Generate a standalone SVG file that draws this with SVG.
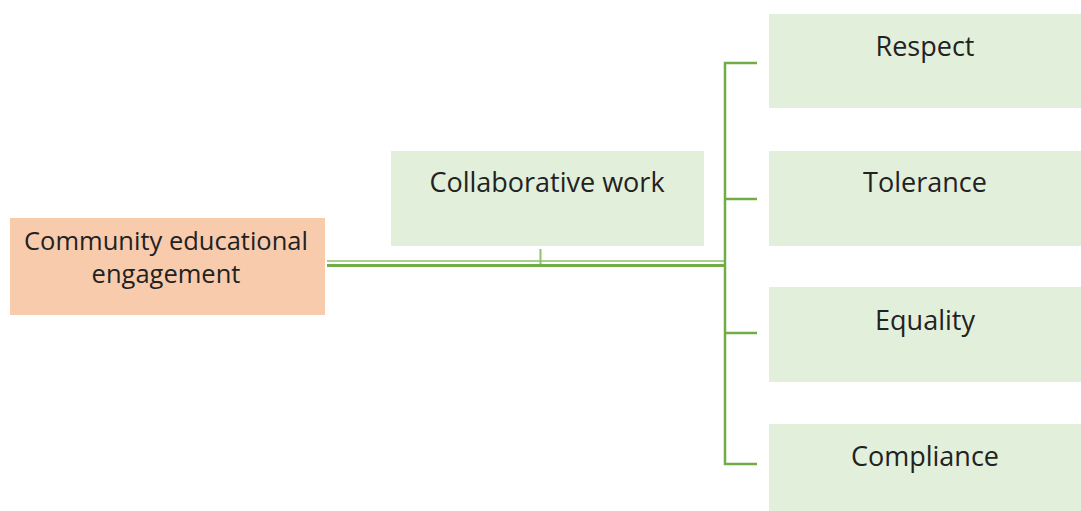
<svg xmlns="http://www.w3.org/2000/svg" width="1081" height="511" viewBox="0 0 1081 511">
<style>
.g{fill:#E2EFDA}
.o{fill:#F8CBAD}
text{font-family:"Open Sans","Noto Sans",sans-serif;font-size:27px;fill:#222;text-anchor:middle}
.s{font-size:25.5px}
.c{stroke:#70AD47;fill:none;stroke-width:2.5}
</style>
<rect width="1081" height="511" fill="#fff"/>
<g id="connectors">
<line x1="327" y1="261" x2="725" y2="261" stroke="#A9D08E" stroke-width="2"/>
<line x1="327" y1="265.5" x2="725" y2="265.5" stroke="#70AD47" stroke-width="3"/>
<line x1="540.5" y1="249" x2="540.5" y2="264" stroke="#8FC16C" stroke-width="2"/>
<path class="c" d="M757 63H725V464H757M725 199H757M725 333H757"/>
</g>
<g id="n-community"><rect class="o" x="10" y="218" width="315" height="97"/><text class="s" x="166" y="250">Community educational</text><text class="s" x="166" y="283">engagement</text></g>
<g id="n-collab"><rect class="g" x="391" y="151" width="313" height="95"/><text x="547" y="192">Collaborative work</text></g>
<g id="n-respect"><rect class="g" x="769" y="14" width="312" height="94"/><text x="925" y="56">Respect</text></g>
<g id="n-tolerance"><rect class="g" x="769" y="151" width="312" height="95"/><text x="925" y="192">Tolerance</text></g>
<g id="n-equality"><rect class="g" x="769" y="287" width="312" height="95"/><text x="925" y="330">Equality</text></g>
<g id="n-compliance"><rect class="g" x="769" y="424" width="312" height="87"/><text x="925" y="466">Compliance</text></g>
</svg>
